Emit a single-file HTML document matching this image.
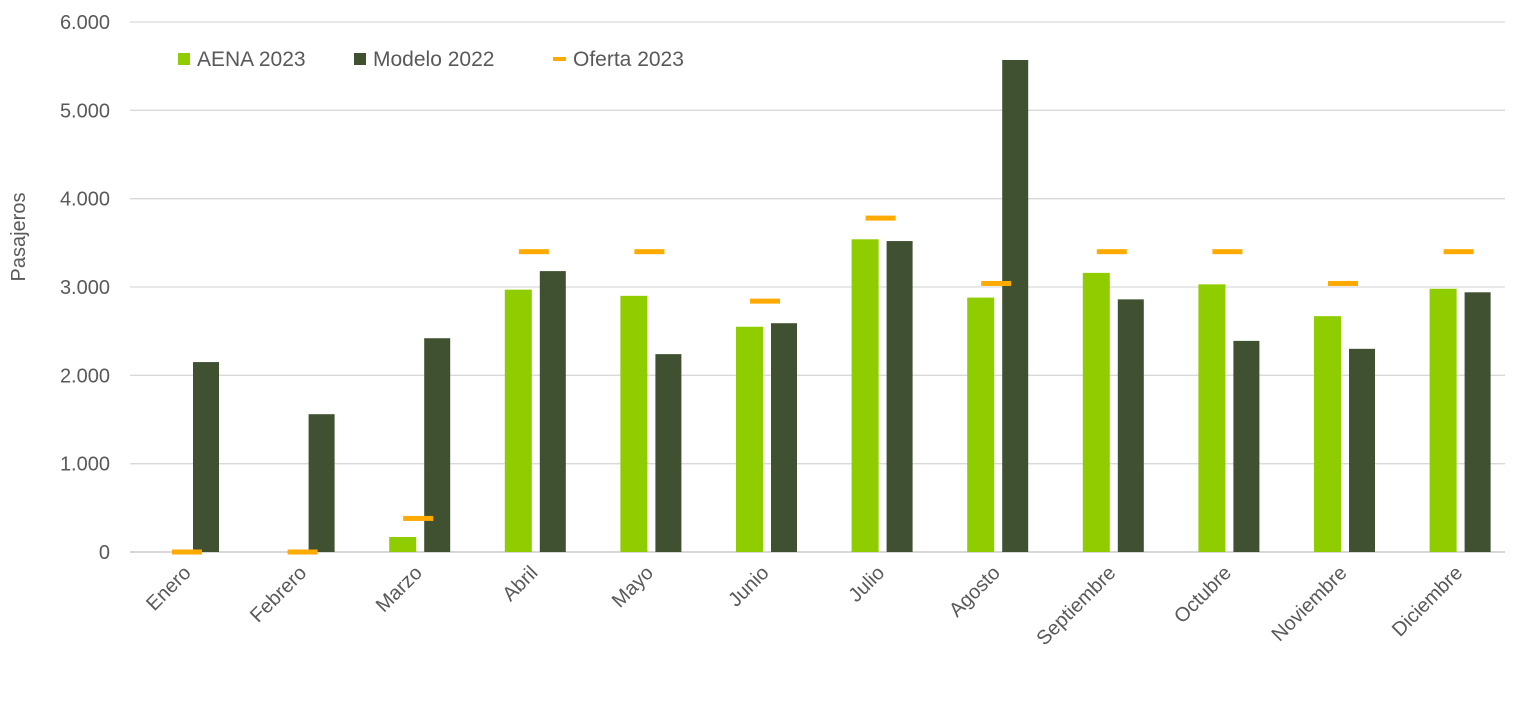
<!DOCTYPE html>
<html><head><meta charset="utf-8">
<style>
html,body{margin:0;padding:0;background:#fff;}
svg{display:block;font-family:"Liberation Sans",sans-serif;}
</style></head>
<body>
<svg id="chart" width="1536" height="703" viewBox="0 0 1536 703" xmlns="http://www.w3.org/2000/svg">
<g id="grid"></g>
<g id="yticks"></g>
<text transform="translate(25,237) rotate(-90)" text-anchor="middle" font-size="20" fill="#595959">Pasajeros</text>
<g id="bars"></g>
<g id="xlabels"></g>
<g>
  <g><rect x="178" y="53" width="12" height="12" fill="#8fcc00"/><text x="197" y="66" font-size="21" fill="#595959">AENA 2023</text></g>
  <g><rect x="354" y="53" width="12" height="12" fill="#3f5130"/><text x="373" y="66" font-size="21" fill="#595959">Modelo 2022</text></g>
  <g><rect x="553" y="57" width="13" height="4" fill="#ffaa00"/><text x="573" y="66" font-size="21" fill="#595959">Oferta 2023</text></g>
</g>
</svg>
<script>
const categories=["Enero","Febrero","Marzo","Abril","Mayo","Junio","Julio","Agosto","Septiembre","Octubre","Noviembre","Diciembre"];
const aena2023=[0,0,170,2970,2900,2550,3540,2880,3160,3030,2670,2980];
const modelo2022=[2150,1560,2420,3180,2240,2590,3520,5570,2860,2390,2300,2940];
const oferta2023=[0,0,380,3400,3400,2840,3780,3040,3400,3400,3040,3400];
const yTicks=[0,1000,2000,3000,4000,5000,6000];
const yTickLabels=["0","1.000","2.000","3.000","4.000","5.000","6.000"];
const NS="http://www.w3.org/2000/svg";
const gx0=130,gx1=1505,x0=126.2,band=115.6,yBase=552,yTop=22,yMax=6000;
function y(v){return yBase-(v/yMax)*(yBase-yTop);}
function cx(i){return x0+band*(i+0.5);}
function mk(tag,attrs,parent){const e=document.createElementNS(NS,tag);for(const k in attrs)e.setAttribute(k,attrs[k]);parent.appendChild(e);return e;}
const grid=document.getElementById('grid'),yt=document.getElementById('yticks'),bars=document.getElementById('bars'),xl=document.getElementById('xlabels');
yTicks.forEach((t,i)=>{
  const l=mk('line',{x1:gx0,x2:gx1,y1:y(t),y2:y(t),stroke:t===0?'#bfbfbf':'#d9d9d9','stroke-width':1.3},grid);
  
  
  const tx=mk('text',{x:110,y:y(t)+7,'text-anchor':'end','font-size':20,fill:'#595959'},yt);
  tx.textContent=yTickLabels[i];
  
  
});
categories.forEach((c,i)=>{
  const c0=cx(i);
  const a=mk('rect',{x:c0-26,y:y(aena2023[i]),width:27,height:yBase-y(aena2023[i]),fill:'#8fcc00'},bars);
  
  
  const m=mk('rect',{x:c0+9,y:y(modelo2022[i]),width:26,height:yBase-y(modelo2022[i]),fill:'#3f5130'},bars);
  
  
  const o=mk('rect',{x:c0-12,y:y(oferta2023[i])-2.5,width:30,height:5,fill:'#ffaa00'},bars);
  
  
  const t=mk('text',{x:0,y:0,'text-anchor':'end','font-size':20,fill:'#595959',transform:`translate(${c0+8},${574}) rotate(-45)`},xl);
  t.textContent=c;
  
  
});
</script>
</body></html>
